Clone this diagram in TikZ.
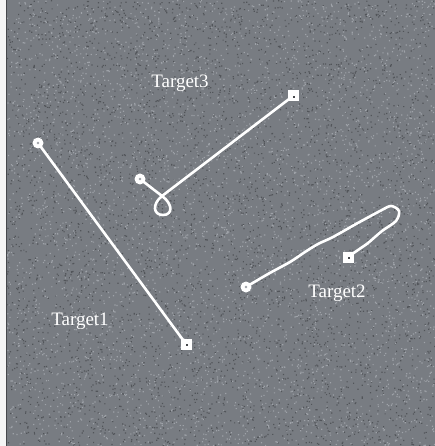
\documentclass[tikz,border=0pt]{standalone}
\usepackage{fontspec}
\setmainfont{Liberation Serif}
\definecolor{bggray}{RGB}{120,124,130}
\definecolor{darkdot}{RGB}{82,85,90}
\definecolor{lightdot}{RGB}{158,162,168}
\definecolor{markdot}{RGB}{70,72,76}
\begin{document}
\begin{tikzpicture}[x=1pt,y=-1pt,
  track/.style={draw=white,line width=2.6pt,line cap=round,line join=round},
  startmark/.style={circle,fill=white,minimum size=11pt,inner sep=0pt},
  endmark/.style={rectangle,fill=white,minimum size=11pt,inner sep=0pt},
  label/.style={text=white,font=\fontsize{19}{19}\selectfont,inner sep=0pt}]
\useasboundingbox (0,0) rectangle (435,446);
% background
\fill[white!92!gray] (0,0) rectangle (6,446);
\fill[bggray] (6,0) rectangle (435,446);
\draw[markdot,line width=1pt] (6.5,0) -- (6.5,446);
\pgfmathsetseed{7}
\fill[darkdot] \foreach \i in {1,...,4500}{ ({7+rnd*427},{rnd*445}) rectangle +(1.2,1.2) };
\fill[lightdot] \foreach \i in {1,...,4500}{ ({7+rnd*427},{rnd*445}) rectangle +(1.2,1.2) };
% anchor points
\coordinate (s1) at (38,143);
\coordinate (e1) at (186,344);
\coordinate (s3) at (140,179);
\coordinate (e3) at (293,96);
\coordinate (s2) at (246,287);
\coordinate (e2) at (348,257);
\coordinate (x3) at (162,196);
% tracks
\draw[track] (s1) -- (e1);
\draw[track] (s3) -- (x3) .. controls (173,204) and (173,215) .. (163,215)
  .. controls (153,215) and (152,204) .. (x3) -- (e3);
\draw[track] plot[smooth,tension=0.5] coordinates {(s2) (268,274) (290,262) (305,252) (318,244) (333,237) (356,224) (380,211) (391,206) (399,211) (396,221) (382,231) (368,243) (358,250) (e2)};
% markers
\node[startmark] (m1) at (s1) {};
\node[endmark] (n1) at (e1) {};
\node[startmark] (m3) at (s3) {};
\node[endmark] (n3) at (e3) {};
\node[startmark] (m2) at (s2) {};
\node[endmark] (n2) at (e2) {};
\foreach \p in {m1,m2,m3}{\fill[lightdot] (\p) circle (1.4);}
\foreach \p in {n1,n2,n3}{\fill[markdot] (\p) rectangle +(1.6,1.6);}
% labels
\node[label] (t3) at (180,83) {Target3};
\node[label] (t2) at (337,293) {Target2};
\node[label] (t1) at (80,321) {Target1};
\end{tikzpicture}
\end{document}
